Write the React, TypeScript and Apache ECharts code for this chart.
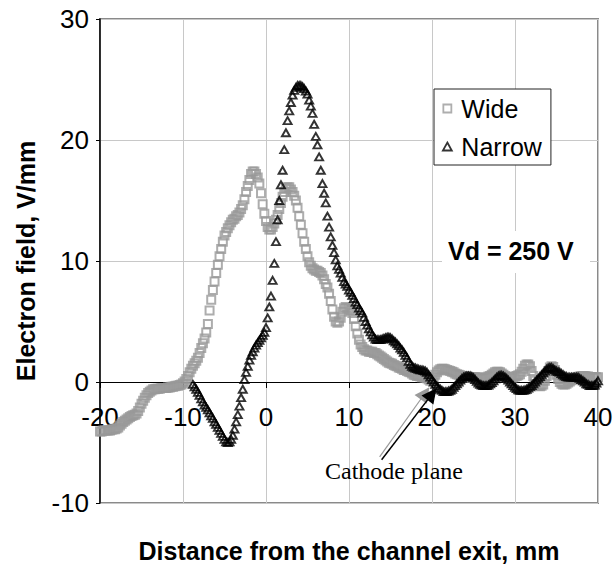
import React, { useEffect, useRef } from "react";
import * as echarts from "echarts";

// ---- axes ----
const X_AXIS_MIN = -20;
const X_AXIS_MAX = 40;
const Y_AXIS_MIN = -10;
const Y_AXIS_MAX = 30;
const TICK_INTERVAL = 10;

// ---- series ----
const SERIES_NAMES = ["Wide", "Narrow"];
const SAMPLE_STEP = 0.2; // mm between samples

const WIDE_START = -20;
const WIDE_VALUES = [
  -4.1, -4.1, -4.0, -4.0, -4.0, // -20
  -4.0, -4.0, -3.95, -3.9, -3.9, // -19
  -3.85, -3.75, -3.6, -3.45, -3.3, // -18
  -3.2, -3.1, -3.0, -2.9, -2.8, // -17
  -2.75, -2.7, -2.6, -2.4, -2.1, // -16
  -1.8, -1.55, -1.3, -1.1, -0.9, // -15
  -0.8, -0.7, -0.6, -0.6, -0.55, // -14
  -0.55, -0.55, -0.5, -0.5, -0.5, // -13
  -0.5, -0.45, -0.45, -0.4, -0.4, // -12
  -0.35, -0.3, -0.3, -0.25, -0.2, // -11
  -0.1, 0.05, 0.25, 0.5, 0.8, // -10
  1.1, 1.35, 1.55, 1.75, 2.0, // -9
  2.4, 2.8, 3.2, 3.6, 4.1, // -8
  4.8, 5.9, 6.8, 7.6, 8.3, // -7
  9.0, 9.7, 10.4, 11.0, 11.6, // -6
  12.1, 12.4, 12.7, 12.95, 13.2, // -5
  13.4, 13.5, 13.7, 13.8, 14.0, // -4
  14.3, 14.6, 15.1, 15.7, 16.2, // -3
  16.7, 17.2, 17.4, 17.4, 17.2, // -2
  16.9, 16.4, 15.6, 14.7, 13.9, // -1
  13.3, 12.8, 12.6, 12.6, 12.8, // 0
  13.1, 13.4, 13.8, 14.3, 14.8, // 1
  15.3, 15.7, 16.0, 16.1, 16.1, // 2
  15.9, 15.7, 15.4, 15.0, 14.4, // 3
  13.7, 13.0, 12.3, 11.6, 11.0, // 4
  10.4, 9.9, 9.6, 9.4, 9.3, // 5
  9.2, 9.2, 9.1, 9.0, 8.8, // 6
  8.5, 8.1, 7.8, 7.3, 6.7, // 7
  6.0, 5.4, 5.0, 4.9, 5.0, // 8
  5.3, 5.8, 6.1, 6.2, 6.1, // 9
  6.0, 5.9, 5.7, 5.2, 4.6, // 10
  4.0, 3.5, 3.1, 2.9, 2.7, // 11
  2.6, 2.6, 2.5, 2.5, 2.5, // 12
  2.4, 2.4, 2.3, 2.2, 2.1, // 13
  2.0, 1.9, 1.8, 1.7, 1.6, // 14
  1.55, 1.5, 1.4, 1.35, 1.3, // 15
  1.2, 1.15, 1.1, 1.0, 1.0, // 16
  0.9, 0.85, 0.8, 0.7, 0.6, // 17
  0.55, 0.5, 0.5, 0.45, 0.4, // 18
  0.4, 0.35, 0.3, 0.2, 0.1, // 19
  0.2, 0.4, 0.6, 0.8, 0.95, // 20
  1.05, 1.1, 1.1, 1.05, 1.0, // 21
  0.95, 0.9, 0.85, 0.8, 0.7, // 22
  0.65, 0.6, 0.55, 0.5, 0.5, // 23
  0.45, 0.4, 0.4, 0.35, 0.35, // 24
  0.4, 0.4, 0.4, 0.35, 0.3, // 25
  0.3, 0.3, 0.35, 0.4, 0.45, // 26
  0.5, 0.6, 0.7, 0.8, 0.85, // 27
  0.85, 0.8, 0.7, 0.6, 0.5, // 28
  0.4, 0.35, 0.35, 0.35, 0.4, // 29
  0.45, 0.5, 0.55, 0.65, 0.85, // 30
  1.1, 1.35, 1.45, 1.45, 1.3, // 31
  0.9, 0.5, 0.1, -0.2, -0.3, // 32
  -0.35, -0.3, -0.2, 0.1, 0.5, // 33
  0.9, 1.2, 1.3, 1.25, 1.0, // 34
  0.6, 0.25, 0.0, -0.15, -0.2, // 35
  -0.2, -0.15, -0.05, 0.05, 0.15, // 36
  0.2, 0.3, 0.35, 0.4, 0.45, // 37
  0.5, 0.5, 0.5, 0.45, 0.45, // 38
  0.4, 0.4, 0.4, 0.4, 0.4, // 39
  0.4, // 40
];

const NARROW_START = -8.8;
const NARROW_VALUES = [
  -0.2, -0.4, -0.6, -0.85, // -8.8 .. -8.2
  -1.1, -1.4, -1.65, -1.9, -2.1, // -8
  -2.3, -2.55, -2.8, -3.0, -3.3, // -7
  -3.5, -3.75, -4.0, -4.25, -4.5, // -6
  -4.75, -4.95, -5.0, -4.95, -4.75, // -5
  -4.4, -3.9, -3.3, -2.7, -2.0, // -4
  -1.3, -0.6, 0.2, 0.8, 1.3, // -3
  1.8, 2.2, 2.5, 2.8, 3.05, // -2
  3.25, 3.45, 3.65, 3.85, 4.1, // -1
  4.5, 5.3, 6.2, 7.1, 8.4, // 0
  9.8, 11.6, 13.4, 15.0, 16.3, // 1
  17.5, 19.2, 20.6, 21.6, 22.4, // 2
  23.1, 23.7, 24.1, 24.35, 24.5, // 3
  24.5, 24.5, 24.4, 24.25, 24.05, // 4
  23.8, 23.3, 22.8, 22.2, 21.3, // 5
  20.3, 19.6, 18.6, 17.5, 16.4, // 6
  15.6, 14.8, 13.7, 12.8, 12.0, // 7
  11.3, 10.7, 10.1, 9.6, 9.3, // 8
  9.0, 8.65, 8.3, 8.1, 7.9, // 9
  7.6, 7.4, 7.15, 6.9, 6.6, // 10
  6.4, 6.1, 5.9, 5.7, 5.35, // 11
  5.0, 4.7, 4.4, 4.15, 3.9, // 12
  3.7, 3.55, 3.5, 3.5, 3.5, // 13
  3.55, 3.6, 3.65, 3.7, 3.7, // 14
  3.65, 3.55, 3.4, 3.3, 3.15, // 15
  3.0, 2.8, 2.65, 2.45, 2.2, // 16
  2.0, 1.7, 1.45, 1.3, 1.2, // 17
  1.15, 1.1, 1.05, 1.0, 1.0, // 18
  0.95, 0.9, 0.8, 0.6, 0.4, // 19
  0.2, 0.0, -0.2, -0.35, -0.5, // 20
  -0.6, -0.7, -0.8, -0.8, -0.8, // 21
  -0.75, -0.7, -0.6, -0.45, -0.3, // 22
  -0.15, 0.0, 0.15, 0.3, 0.4, // 23
  0.45, 0.5, 0.5, 0.5, 0.45, // 24
  0.35, 0.2, 0.05, -0.1, -0.2, // 25
  -0.25, -0.3, -0.3, -0.3, -0.25, // 26
  -0.15, -0.05, 0.1, 0.25, 0.4, // 27
  0.5, 0.55, 0.55, 0.5, 0.4, // 28
  0.3, 0.15, 0.0, -0.15, -0.3, // 29
  -0.45, -0.55, -0.65, -0.7, -0.7, // 30
  -0.7, -0.65, -0.6, -0.5, -0.4, // 31
  -0.3, -0.15, 0.0, 0.15, 0.3, // 32
  0.45, 0.6, 0.75, 0.9, 1.05, // 33
  1.15, 1.2, 1.2, 1.1, 1.0, // 34
  0.9, 0.85, 0.8, 0.7, 0.6, // 35
  0.5, 0.45, 0.4, 0.4, 0.4, // 36
  0.4, 0.4, 0.4, 0.4, 0.3, // 37
  0.2, 0.1, 0.0, -0.15, -0.2, // 38
  -0.3, -0.3, -0.3, -0.25, -0.1, // 39
  0.1, // 40
];

// ---- texts / annotation ----
const X_TITLE = "Distance from the channel exit, mm";
const Y_TITLE = "Electron field, V/mm";
const VD_LABEL = "Vd = 250 V";
const CATHODE_LABEL = "Cathode plane";
// arrow start / end in data coordinates (mm, V/mm)
const CATHODE_ARROW_GRAY = [[13.69, -6.18], [19.16, -0.93]];
const CATHODE_ARROW_BLACK = [[13.93, -6.42], [20.0, -1.0]];

const SANS = 'Arial, "Liberation Sans", Helvetica, sans-serif';
const SERIF = '"Times New Roman", "Liberation Serif", serif';

// layout
const CHART_W = 616;
const CHART_H = 569;
const GRID = { left: 100, right: 18, top: 19, bottom: 66 };

const toPoints = (start: number, values: number[]) =>
  values.map((v, i) => [Math.round((start + i * SAMPLE_STEP) * 10) / 10, v]);

export default function App() {
  const ref = useRef<HTMLDivElement>(null);

  useEffect(() => {
    if (!ref.current) return;
    const chart = echarts.init(ref.current, undefined, { renderer: "svg" });

    // x axis sits on y = 0: shift it up from the grid bottom by the height of [Y_AXIS_MIN, 0]
    const gridH = CHART_H - GRID.top - GRID.bottom;
    const zeroOffset = -((0 - Y_AXIS_MIN) / (Y_AXIS_MAX - Y_AXIS_MIN)) * gridH;

    const option: any = {
      animation: false,
      backgroundColor: "#fff",
      grid: {
        ...GRID,
        show: true,
        containLabel: false,
        outerBoundsMode: "none",
        borderColor: "#8a8a8a",
        borderWidth: 2,
        backgroundColor: "transparent",
      },
      legend: {
        orient: "vertical",
        left: 434,
        top: 89,
        padding: [7, 9, 6, 8],
        itemGap: 13,
        itemWidth: 18,
        itemHeight: 8,
        selectedMode: false,
        backgroundColor: "#fff",
        borderColor: "#222",
        borderWidth: 1,
        textStyle: { fontSize: 25, fontFamily: SANS, color: "#000" },
        data: [
          {
            name: SERIES_NAMES[0],
            icon: "path://M0,0H10V10H0Z",
            itemStyle: { color: "#fff", borderColor: "#9a9a9a", borderWidth: 1.8 },
          },
          {
            name: SERIES_NAMES[1],
            icon: "path://M5,0L10,9L0,9Z",
            itemStyle: { color: "#fff", borderColor: "#000", borderWidth: 1.8 },
          },
        ],
      },
      xAxis: {
        type: "value",
        min: X_AXIS_MIN,
        max: X_AXIS_MAX,
        interval: TICK_INTERVAL,
        position: "bottom",
        offset: zeroOffset,
        name: X_TITLE,
        nameLocation: "middle",
        nameGap: 156,
        nameTextStyle: { fontSize: 25, fontWeight: "bold", fontFamily: SANS, color: "#000" },
        axisLine: { onZero: false, lineStyle: { color: "#000", width: 1.2 } },
        axisTick: { show: true, inside: false, length: 6, lineStyle: { color: "#000" } },
        axisLabel: { fontSize: 26, fontFamily: SANS, color: "#000", margin: 22, showMinLabel: true, showMaxLabel: true },
        splitLine: { show: true, lineStyle: { color: "#c8c8c8", width: 1 } },
      },
      yAxis: {
        type: "value",
        min: Y_AXIS_MIN,
        max: Y_AXIS_MAX,
        interval: TICK_INTERVAL,
        name: Y_TITLE,
        nameLocation: "middle",
        nameGap: 62,
        nameTextStyle: { fontSize: 25, fontWeight: "bold", fontFamily: SANS, color: "#000" },
        axisLine: { show: true, onZero: false, lineStyle: { color: "#000", width: 1.5 } },
        axisTick: { show: true, inside: false, length: 4, lineStyle: { color: "#000" } },
        axisLabel: { fontSize: 26, fontFamily: SANS, color: "#000", margin: 11 },
        splitLine: { show: true, lineStyle: { color: "#c8c8c8", width: 1 } },
      },
      series: [
        {
          name: SERIES_NAMES[0],
          type: "scatter",
          data: toPoints(WIDE_START, WIDE_VALUES),
          symbol: "rect",
          symbolSize: 8,
          itemStyle: { color: "rgba(255,255,255,0)", borderColor: "#999999", borderWidth: 2 },
          emphasis: { disabled: true },
          silent: true,
          z: 2,
        },
        {
          name: SERIES_NAMES[1],
          type: "scatter",
          data: toPoints(NARROW_START, NARROW_VALUES),
          symbol: "triangle",
          symbolSize: [8, 7],
          itemStyle: { color: "rgba(255,255,255,0)", borderColor: "#000", borderWidth: 1.9 },
          emphasis: { disabled: true },
          silent: true,
          z: 3,
          markLine: {
            silent: true,
            animation: false,
            symbol: ["none", "triangle"],
            symbolSize: 15,
            label: { show: false },
            emphasis: { disabled: true },
            data: [
              [
                { coord: CATHODE_ARROW_GRAY[0], lineStyle: { color: "#9a9a9a", width: 1.2, type: "solid" } },
                { coord: CATHODE_ARROW_GRAY[1] },
              ],
              [
                { coord: CATHODE_ARROW_BLACK[0], lineStyle: { color: "#000", width: 1.5, type: "solid" } },
                { coord: CATHODE_ARROW_BLACK[1] },
              ],
            ],
          },
        },
      ],
      graphic: [
        {
          type: "rect",
          z: 5,
          shape: { x: 442, y: 231, width: 148, height: 42 },
          style: { fill: "#fff" },
          silent: true,
        },
        {
          type: "text",
          z: 6,
          x: 448,
          y: 251,
          style: {
            text: VD_LABEL,
            font: `bold 25px ${SANS}`,
            fill: "#000",
            textAlign: "left",
            textVerticalAlign: "middle",
            align: "left",
            verticalAlign: "middle",
          },
          silent: true,
        },
        {
          type: "text",
          z: 6,
          x: 394,
          y: 471,
          style: {
            text: CATHODE_LABEL,
            font: `24px ${SERIF}`,
            fill: "#000",
            textAlign: "center",
            textVerticalAlign: "middle",
            align: "center",
            verticalAlign: "middle",
          },
          silent: true,
        },
      ],
    };

    chart.setOption(option);
    return () => chart.dispose();
  }, []);

  return (
    <div
      ref={ref}
      style={{ position: "fixed", left: 0, top: 0, width: CHART_W, height: CHART_H, background: "#fff" }}
    />
  );
}
